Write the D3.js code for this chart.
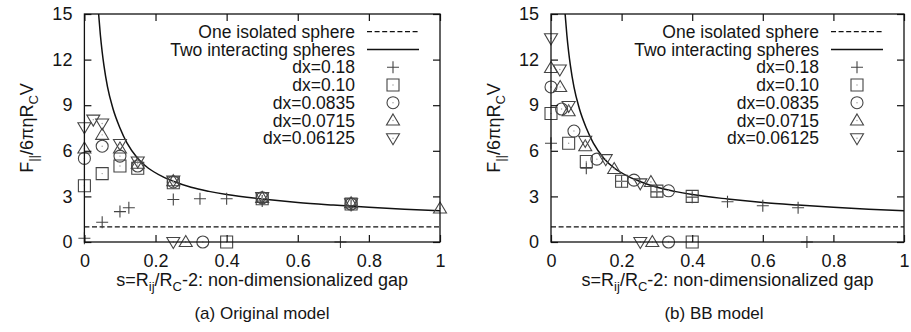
<!DOCTYPE html>
<html>
<head>
<meta charset="utf-8">
<script src="https://cdn.jsdelivr.net/npm/d3@7"></script>
<style>
  body { margin: 0; background: #fff; }
  text { font-family: "Liberation Sans", Arial, sans-serif; fill: #151515; }
</style>
</head>
<body>
<script>
// axis ticks
var xTicks = [0, 0.2, 0.4, 0.6, 0.8, 1];
var yTicks = [0, 3, 6, 9, 12, 15];

// "Two interacting spheres" line
var theoryS = [0.040, 0.045, 0.050, 0.055, 0.065, 0.080, 0.100, 0.120, 0.150, 0.180, 0.220,
               0.250, 0.300, 0.350, 0.400, 0.500, 0.600, 0.700, 0.800, 0.900, 1.000];
var theoryF = [15.0, 13.6, 12.5, 11.6, 10.2, 8.8, 7.5, 6.5, 5.5, 4.85, 4.3,
               4.0, 3.6, 3.33, 3.12, 2.83, 2.6, 2.43, 2.28, 2.15, 2.05];
// "One isolated sphere"
var isolatedF = 1;

var legendLines = ["One isolated sphere", "Two interacting spheres"];
var seriesNames = ["dx=0.18", "dx=0.10", "dx=0.0835", "dx=0.0715", "dx=0.06125"];
var seriesShapes = ["plus", "square", "circle", "triUp", "triDown"];

// (a) Original model  [s, F]
var origDx018 = [[0, 0.25], [0.05, 1.3], [0.10, 2.0], [0.125, 2.25], [0.25, 2.8], [0.325, 2.85],
                 [0.40, 2.85], [0.50, 2.7], [0.75, 2.4], [0.72, 0]];
var origDx010 = [[0, 3.7], [0.05, 4.5], [0.10, 5.0], [0.15, 4.85], [0.25, 3.9], [0.50, 2.85],
                 [0.75, 2.5], [0.40, 0]];
var origDx0835 = [[0, 5.5], [0.05, 6.3], [0.10, 5.65], [0.15, 5.0], [0.25, 3.95], [0.50, 2.9],
                  [0.75, 2.5], [0.333, 0]];
var origDx0715 = [[0, 6.15], [0.05, 7.05], [0.10, 6.15], [0.15, 5.15], [0.25, 4.0], [0.50, 2.9],
                  [0.75, 2.55], [1.0, 2.2], [0.285, 0]];
var origDx06125 = [[0, 7.55], [0.025, 8.05], [0.05, 7.8], [0.10, 6.45], [0.15, 5.3], [0.25, 4.05],
                   [0.50, 2.95], [0.75, 2.55], [0.25, 0]];

// (b) BB model  [s, F]
var bbDx018 = [[0, 6.5], [0.10, 4.85], [0.20, 4.0], [0.30, 3.3], [0.40, 2.95], [0.50, 2.65],
               [0.60, 2.38], [0.70, 2.25], [0.725, 0]];
var bbDx010 = [[0, 8.45], [0.05, 6.5], [0.10, 5.3], [0.20, 4.0], [0.30, 3.35], [0.40, 3.0], [0.40, 0]];
var bbDx0835 = [[0, 10.2], [0.03, 8.75], [0.065, 7.3], [0.13, 5.45], [0.235, 4.07], [0.333, 3.37],
                [0.333, 0]];
var bbDx0715 = [[0, 11.45], [0.026, 10.2], [0.05, 8.6], [0.097, 6.3], [0.179, 4.8], [0.283, 3.95],
                [0.287, 0]];
var bbDx06125 = [[0, 13.4], [0.025, 11.35], [0.05, 8.95], [0.097, 6.65], [0.155, 5.45], [0.253, 3.86],
                 [0.253, 0]];

var width = 911, height = 332;
var plotTop = 14, plotBottom = 242;

var svg = d3.select("body").append("svg")
    .attr("width", width)
    .attr("height", height);

// marker outlines, centred on 0,0
function markerPath(shape) {
  switch (shape) {
    case "plus":   return "M-6,0H6M0,-6V6";
    case "square": return "M-6,-6H6V6H-6Z";
    case "circle": return "M6,0A6,6 0 1 1 -6,0A6,6 0 1 1 6,0Z";
    case "triUp":  return "M0,-6.5L6.5,4.5L-6.5,4.5Z";
    case "triDown":return "M0,6.5L6.5,-4.5L-6.5,-4.5Z";
  }
}

function drawMarker(g, shape, px, py) {
  g.append("path")
    .attr("transform", "translate(" + px + "," + py + ")")
    .attr("d", markerPath(shape))
    .attr("fill", "none")
    .attr("stroke", "#444")
    .attr("stroke-width", 1.1);
  if (shape != "plus") {
    g.append("circle")
      .attr("cx", px).attr("cy", py).attr("r", 0.7)
      .attr("fill", "#999");
  }
}

function drawPanel(p) {
  var x = d3.scaleLinear().domain([0, 1]).range([p.x0, p.x1]);
  var y = d3.scaleLinear().domain([0, 15]).range([plotBottom, plotTop]);
  var g = svg.append("g");

  // dashed line: one isolated sphere
  g.append("line")
    .attr("x1", x(0)).attr("x2", x(1))
    .attr("y1", y(isolatedF)).attr("y2", y(isolatedF))
    .attr("stroke", "#111").attr("stroke-width", 1.3)
    .attr("stroke-dasharray", "5,2.6");

  // solid line: two interacting spheres
  var pts = theoryS.map(function(s, i) { return [s, theoryF[i]]; });
  g.append("path")
    .datum(pts)
    .attr("fill", "none")
    .attr("stroke", "#111")
    .attr("stroke-width", 1.5)
    .attr("d", d3.line()
      .x(function(d) { return x(d[0]); })
      .y(function(d) { return y(d[1]); })
      .curve(d3.curveMonotoneX));

  // points
  p.series.forEach(function(data, k) {
    data.forEach(function(d) {
      drawMarker(g, seriesShapes[k], x(d[0]), y(d[1]));
    });
  });

  // axes, ticks point inward, mirrored on top and right
  var fmt = function(d) { return String(d); };
  g.append("g")
    .attr("transform", "translate(0," + plotBottom + ")")
    .call(d3.axisBottom(x).tickValues(xTicks).tickFormat(fmt)
      .tickSizeInner(-7).tickSizeOuter(0).tickPadding(12));
  g.append("g")
    .attr("transform", "translate(0," + plotTop + ")")
    .call(d3.axisTop(x).tickValues(xTicks).tickFormat("")
      .tickSizeInner(-7).tickSizeOuter(0));
  g.append("g")
    .attr("transform", "translate(" + p.x0 + ",0)")
    .call(d3.axisLeft(y).tickValues(yTicks).tickFormat(fmt)
      .tickSizeInner(-7).tickSizeOuter(0).tickPadding(12));
  g.append("g")
    .attr("transform", "translate(" + p.x1 + ",0)")
    .call(d3.axisRight(y).tickValues(yTicks).tickFormat("")
      .tickSizeInner(-7).tickSizeOuter(0));
  g.selectAll(".domain").remove();
  g.selectAll(".tick line").attr("stroke", "#111").attr("stroke-width", 1.2);
  g.selectAll(".tick text")
    .style("font-family", "'Liberation Sans', Arial, sans-serif")
    .style("font-size", "18px").attr("fill", "#151515");

  // frame
  g.append("rect")
    .attr("x", p.x0).attr("y", plotTop)
    .attr("width", p.x1 - p.x0).attr("height", plotBottom - plotTop)
    .attr("fill", "none").attr("stroke", "#111").attr("stroke-width", 1.3);

  // legend
  var tx = p.x1 - 85, l0 = p.x1 - 73, l1 = p.x1 - 21, lc = (l0 + l1) / 2;
  var rowY = function(i) { return 31.7 + i * 17.75; };
  var names = legendLines.concat(seriesNames);
  names.forEach(function(name, i) {
    g.append("text")
      .attr("x", tx).attr("y", rowY(i) + 6.2)
      .attr("text-anchor", "end")
      .style("font-size", "17.5px")
      .text(name);
  });
  g.append("line")
    .attr("x1", l0).attr("x2", l1).attr("y1", rowY(0)).attr("y2", rowY(0))
    .attr("stroke", "#111").attr("stroke-width", 1.3)
    .attr("stroke-dasharray", "5,2.6");
  g.append("line")
    .attr("x1", l0).attr("x2", l1).attr("y1", rowY(1)).attr("y2", rowY(1))
    .attr("stroke", "#111").attr("stroke-width", 1.5);
  seriesShapes.forEach(function(shape, k) {
    drawMarker(g, shape, lc, rowY(k + 2));
  });

  // y axis title
  var yt = g.append("text")
    .attr("transform", "translate(" + (p.x0 - 51) + "," + ((plotTop + plotBottom) / 2) + ") rotate(-90)")
    .attr("text-anchor", "middle")
    .style("font-size", "18px");
  yt.append("tspan").text("F");
  yt.append("tspan").attr("dy", 5).style("font-size", "13px").text("||");
  yt.append("tspan").attr("dy", -5).text("/6πηR");
  yt.append("tspan").attr("dy", 5).style("font-size", "13px").text("C");
  yt.append("tspan").attr("dy", -5).text("V");

  // x axis title
  var xt = g.append("text")
    .attr("x", (p.x0 + p.x1) / 2).attr("y", 286)
    .attr("text-anchor", "middle")
    .style("font-size", "18px");
  xt.append("tspan").text("s=R");
  xt.append("tspan").attr("dy", 5).style("font-size", "13px").text("ij");
  xt.append("tspan").attr("dy", -5).text("/R");
  xt.append("tspan").attr("dy", 5).style("font-size", "13px").text("C");
  xt.append("tspan").attr("dy", -5).text("-2: non-dimensionalized gap");

  // caption
  g.append("text")
    .attr("x", p.capX).attr("y", 319)
    .attr("text-anchor", "middle")
    .style("font-size", "17px")
    .text(p.caption);
}

drawPanel({
  x0: 84.4, x1: 440, capX: 262, caption: "(a) Original model",
  series: [origDx018, origDx010, origDx0835, origDx0715, origDx06125]
});
drawPanel({
  x0: 551, x1: 904, capX: 714, caption: "(b) BB model",
  series: [bbDx018, bbDx010, bbDx0835, bbDx0715, bbDx06125]
});
</script>
</body>
</html>
